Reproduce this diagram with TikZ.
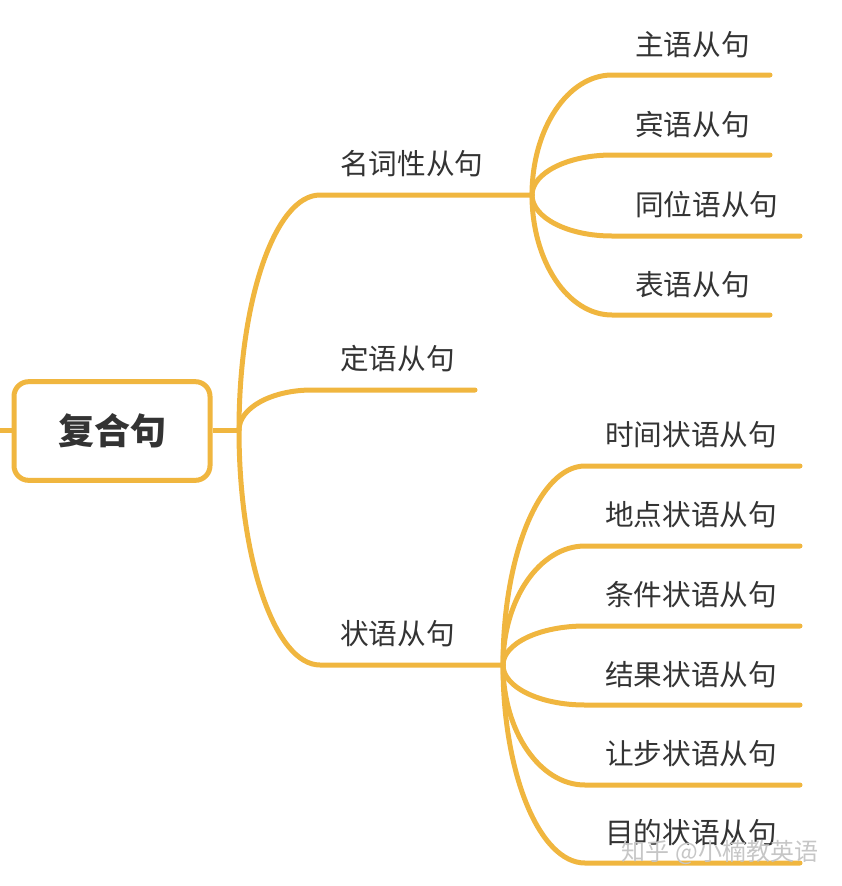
\documentclass[tikz,border=0pt]{standalone}
\usepackage{fontspec}
\newfontfamily\cjk{Noto Sans CJK SC}
\usetikzlibrary{calc}
\definecolor{branch}{HTML}{F0B63F}
\definecolor{txt}{HTML}{333333}
\newcommand\mmbranch[3]{%
  \draw[link] let \p1=(#1), \p2=(#2) in (#1)
    .. controls (\x1,{\y1+0.5523*(\y2-\y1)}) and ({\x2-0.5523*(\x2-\x1)},\y2) .. (#2) -- (#3);}
\begin{document}
\begin{tikzpicture}[x=0.75pt,y=-0.75pt,
  link/.style={draw=branch, line width=3.75pt, line cap=round},
  lbl/.style={text=txt, font=\cjk\fontsize{21.5}{22}\selectfont, inner sep=0pt, anchor=west},
  rootbox/.style={draw=branch, line width=3.75pt, rounded corners=11pt, fill=white,
    minimum width=147pt, minimum height=74pt, text=txt, font=\cjk\bfseries\fontsize{27}{28}\selectfont}]
\useasboundingbox (0,0) rectangle (842,886);

% root
\coordinate (lstub) at (0,430);
\node[rootbox] (root) at (112,431) {复合句};
\draw[link, line cap=butt] (lstub) -- (root.west |- lstub);
\coordinate (rj) at (239,430);
\draw[link, line cap=butt] (root.east |- rj) -- (rj);

% first level
\coordinate (nS) at (320,195); \coordinate (nJ) at (532,195);
\coordinate (dS) at (312,390); \coordinate (dE) at (475,390);
\coordinate (zS) at (320,665); \coordinate (zJ) at (503,665);
\mmbranch{rj}{nS}{nJ}
\mmbranch{rj}{dS}{dE}
\mmbranch{rj}{zS}{zJ}
\node[lbl] (n) at (340,164) {名词性从句};
\node[lbl] (d) at (340,359) {定语从句};
\node[lbl] (z) at (340,634) {状语从句};

% noun clause children
\coordinate (n1s) at (612,75);  \coordinate (n1e) at (770,75);
\coordinate (n2s) at (612,155); \coordinate (n2e) at (770,155);
\coordinate (n3s) at (612,236); \coordinate (n3e) at (800,236);
\coordinate (n4s) at (612,315); \coordinate (n4e) at (770,315);
\mmbranch{nJ}{n1s}{n1e}
\mmbranch{nJ}{n2s}{n2e}
\mmbranch{nJ}{n3s}{n3e}
\mmbranch{nJ}{n4s}{n4e}
\node[lbl] (n1) at (635,45)  {主语从句};
\node[lbl] (n2) at (635,125) {宾语从句};
\node[lbl] (n3) at (635,205) {同位语从句};
\node[lbl] (n4) at (635,285) {表语从句};

% adverbial clause children
\coordinate (z1s) at (585,466); \coordinate (z1e) at (800,466);
\coordinate (z2s) at (585,546); \coordinate (z2e) at (800,546);
\coordinate (z3s) at (585,626); \coordinate (z3e) at (800,626);
\coordinate (z4s) at (585,705); \coordinate (z4e) at (800,705);
\coordinate (z5s) at (585,785); \coordinate (z5e) at (800,785);
\coordinate (z6s) at (585,863); \coordinate (z6e) at (800,863);
\mmbranch{zJ}{z1s}{z1e}
\mmbranch{zJ}{z2s}{z2e}
\mmbranch{zJ}{z3s}{z3e}
\mmbranch{zJ}{z4s}{z4e}
\mmbranch{zJ}{z5s}{z5e}
\mmbranch{zJ}{z6s}{z6e}
\node[lbl] (z1) at (605,435) {时间状语从句};
\node[lbl] (z2) at (605,515) {地点状语从句};
\node[lbl] (z3) at (605,595) {条件状语从句};
\node[lbl] (z4) at (605,675) {结果状语从句};
\node[lbl] (z5) at (605,754) {让步状语从句};
\node[lbl] (z6) at (605,833) {目的状语从句};

% watermark
\node[text=gray!45, font=\cjk\fontsize{18}{18}\selectfont, inner sep=0pt] (wm) at (720,852) {知乎 @小楠教英语};
\end{tikzpicture}
\end{document}
